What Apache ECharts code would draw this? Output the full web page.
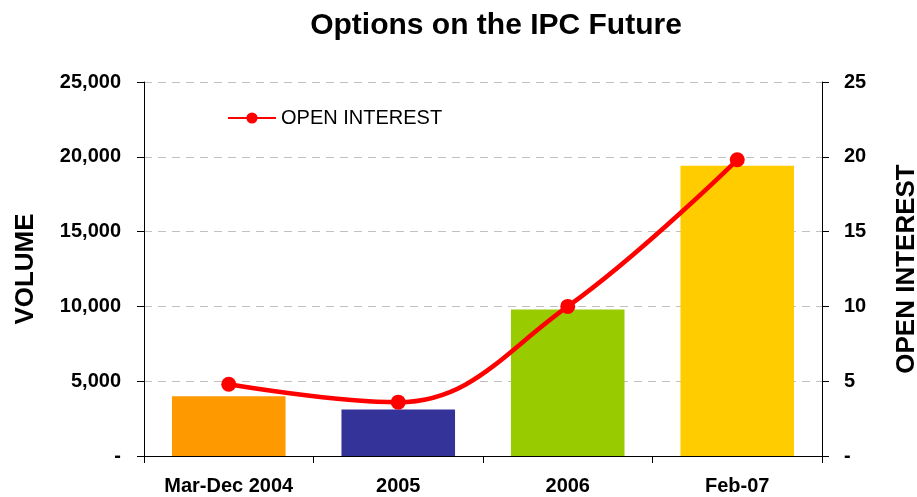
<!DOCTYPE html>
<html>
<head>
<meta charset="utf-8">
<script src="https://cdn.jsdelivr.net/npm/echarts@6/dist/echarts.min.js"></script>
<style>
  html, body { margin: 0; padding: 0; background: #fff; }
  #main { width: 917px; height: 497px; }
</style>
</head>
<body>
<div id="main"></div>
<script>
var categories = ["Mar-Dec 2004", "2005", "2006", "Feb-07"];
var volume = [4000, 3100, 9800, 19400];
var openInterest = [4.8, 3.6, 10.0, 19.8];
var barColors = ["#FF9900", "#333399", "#99CC00", "#FFCC00"];

var font = "Liberation Sans, Arial, sans-serif";

function volLabel(v) {
  return v === 0 ? "-" : v.toLocaleString("en-US");
}
function oiLabel(v) {
  return v === 0 ? "-" : String(v);
}

var myChart = echarts.init(document.getElementById("main"));
var option = {
  animation: false,
  textStyle: { fontFamily: font },
  title: {
    text: "Options on the IPC Future",
    left: 491,
    textAlign: "center",
    top: 6,
    textStyle: { fontSize: 30, fontWeight: "bold", color: "#000", fontFamily: font }
  },
  legend: {
    data: ["OPEN INTEREST"],
    left: 222,
    top: 103,
    itemWidth: 48,
    itemHeight: 14,
    itemGap: 4,
    textStyle: { fontSize: 20, color: "#000", fontFamily: font }
  },
  grid: { left: 144, right: 95, top: 82, bottom: 41, outerBoundsMode: "none" },
  xAxis: {
    type: "category",
    data: categories,
    axisLine: { lineStyle: { color: "#000", width: 1 } },
    axisTick: { show: true, length: 7, lineStyle: { color: "#000" } },
    axisLabel: { fontSize: 20, fontWeight: "bold", color: "#000", margin: 20, fontFamily: font }
  },
  yAxis: [
    {
      type: "value",
      min: 0,
      max: 25000,
      interval: 5000,
      name: "VOLUME",
      nameLocation: "middle",
      nameRotate: 90,
      nameGap: 105,
      nameTextStyle: { fontSize: 26, fontWeight: "bold", color: "#000", fontFamily: font },
      axisLine: { show: true, lineStyle: { color: "#000" } },
      axisTick: { show: true, length: 7, lineStyle: { color: "#000" } },
      axisLabel: { formatter: volLabel, fontSize: 20, fontWeight: "bold", color: "#000", margin: 23, fontFamily: font },
      splitLine: { show: true, lineStyle: { color: "#C0C0C0", type: [8, 6] } }
    },
    {
      type: "value",
      min: 0,
      max: 25,
      interval: 5,
      name: "OPEN INTEREST",
      nameLocation: "middle",
      nameRotate: 90,
      nameGap: 72,
      nameTextStyle: { fontSize: 26, fontWeight: "bold", color: "#000", fontFamily: font },
      axisLine: { show: true, lineStyle: { color: "#000" } },
      axisTick: { show: true, length: 7, lineStyle: { color: "#000" } },
      axisLabel: { formatter: oiLabel, fontSize: 20, fontWeight: "bold", color: "#000", margin: 22, fontFamily: font },
      splitLine: { show: false }
    }
  ],
  series: [
    {
      name: "VOLUME",
      type: "bar",
      yAxisIndex: 0,
      barWidth: "67%",
      data: volume.map(function (v, i) {
        return { value: v, itemStyle: { color: barColors[i] } };
      })
    },
    {
      name: "OPEN INTEREST",
      type: "line",
      yAxisIndex: 1,
      smooth: 0.4,
      symbol: "circle",
      symbolSize: 15,
      lineStyle: { color: "#FF0000", width: 4.5 },
      itemStyle: { color: "#FF0000" },
      data: openInterest
    }
  ]
};
myChart.setOption(option);
</script>
</body>
</html>
